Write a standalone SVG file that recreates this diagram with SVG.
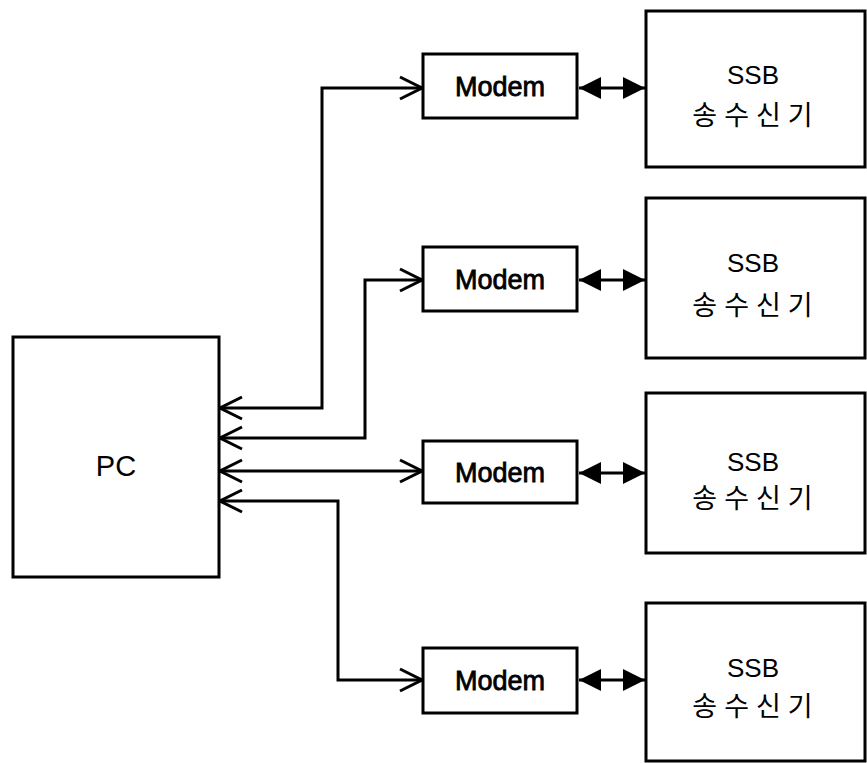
<svg xmlns="http://www.w3.org/2000/svg" width="867" height="763" viewBox="0 0 867 763">
<style>
.box{fill:#fff;stroke:#000;stroke-width:3}
.ln{fill:none;stroke:#000;stroke-width:3}
.lbl{font-family:"Liberation Sans",Arial,sans-serif;font-size:26px;fill:#000;text-anchor:middle}
.pc{font-family:"Liberation Sans",Arial,sans-serif;font-size:29px;fill:#000;text-anchor:middle}
.mod{font-family:"Liberation Sans",Arial,sans-serif;font-size:27px;fill:#000;stroke:#000;stroke-width:0.8;text-anchor:middle}
.kr{font-family:"Noto Sans CJK KR","Liberation Sans",sans-serif;font-size:27px;letter-spacing:7px;fill:#000;text-anchor:middle}
</style>
<defs>
<marker id="open" viewBox="0 0 26 26" refX="24" refY="13" markerWidth="26" markerHeight="26" markerUnits="userSpaceOnUse" orient="auto-start-reverse">
<path d="M2,2 L24,13 L2,24" fill="none" stroke="#000" stroke-width="3"/>
</marker>
<marker id="fill" viewBox="0 0 23 24" refX="22" refY="12" markerWidth="23" markerHeight="24" markerUnits="userSpaceOnUse" orient="auto-start-reverse">
<path d="M0,1 L22,12 L0,23 z" fill="#000"/>
</marker>
</defs>
<g id="pc"><rect class="box" x="13" y="337" width="206" height="240"/><text class="pc" x="116" y="476">PC</text></g>
<g id="modem1"><rect class="box" x="423" y="54" width="154" height="64"/><text class="mod" x="500" y="96">Modem</text></g>
<g id="modem2"><rect class="box" x="423" y="247" width="154" height="64"/><text class="mod" x="500" y="289">Modem</text></g>
<g id="modem3"><rect class="box" x="423" y="441" width="154" height="62"/><text class="mod" x="500" y="482">Modem</text></g>
<g id="modem4"><rect class="box" x="423" y="648" width="154" height="65"/><text class="mod" x="500" y="690">Modem</text></g>
<g id="ssb1"><rect class="box" x="646" y="11" width="219" height="156"/><text class="lbl" x="753" y="84">SSB</text><text class="kr" x="756" y="125">송수신기</text></g>
<g id="ssb2"><rect class="box" x="646" y="198" width="219" height="160"/><text class="lbl" x="753" y="272">SSB</text><text class="kr" x="756" y="315">송수신기</text></g>
<g id="ssb3"><rect class="box" x="646" y="393" width="219" height="160"/><text class="lbl" x="753" y="471">SSB</text><text class="kr" x="756" y="508">송수신기</text></g>
<g id="ssb4"><rect class="box" x="646" y="603" width="219" height="158"/><text class="lbl" x="753" y="677">SSB</text><text class="kr" x="756" y="716">송수신기</text></g>
<g id="connectors">
<path class="ln" d="M220,408 H322 V88 H422" marker-start="url(#open)" marker-end="url(#open)"/>
<path class="ln" d="M220,438 H365 V280 H422" marker-start="url(#open)" marker-end="url(#open)"/>
<path class="ln" d="M220,471 H422" marker-start="url(#open)" marker-end="url(#open)"/>
<path class="ln" d="M220,501 H338 V680 H422" marker-start="url(#open)" marker-end="url(#open)"/>
<path class="ln" d="M579,88 H645" marker-start="url(#fill)" marker-end="url(#fill)"/>
<path class="ln" d="M579,280 H645" marker-start="url(#fill)" marker-end="url(#fill)"/>
<path class="ln" d="M579,473 H645" marker-start="url(#fill)" marker-end="url(#fill)"/>
<path class="ln" d="M579,680 H645" marker-start="url(#fill)" marker-end="url(#fill)"/>
</g>
</svg>
